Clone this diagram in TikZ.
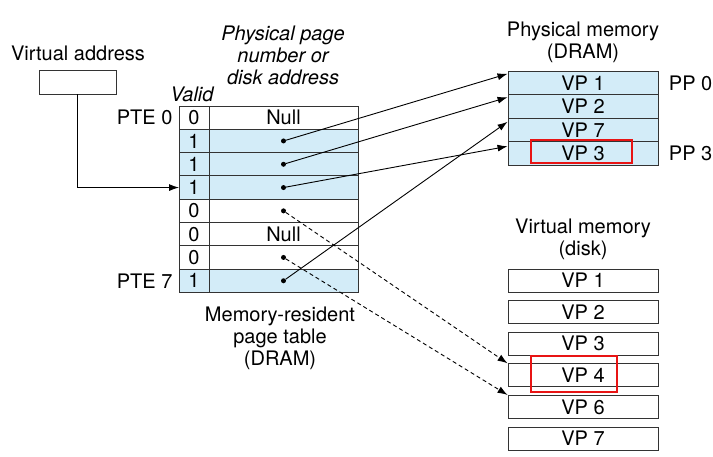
\documentclass[tikz,border=0pt]{standalone}
\usepackage{fontspec}
\setmainfont{TeX Gyre Heros}
\usetikzlibrary{positioning}
\usetikzlibrary{arrows.meta}
\definecolor{pteblue}{RGB}{211,236,248}
\definecolor{boxred}{RGB}{232,20,20}
\tikzset{
% Cells of the page table and of the two memories
table cell/.style={draw=black!80,line width=0.9,outer sep=0,inner sep=0,minimum height=23.3},
mem cell/.style={draw=black!80,line width=0.9,inner sep=0,minimum width=150,minimum height=23.5},
red box/.style={draw=boxred,line width=2,inner sep=0},
solid node/.style={circle,fill=black,inner sep=0,minimum size=5},
italic text/.style={font=\fontsize{20}{22}\selectfont\itshape},
% Connectors: pointers into DRAM and disk addresses
ptr arrow/.style={line width=0.9,-{Latex[length=10,width=7]}},
disk arrow/.style={ptr arrow,dash pattern=on 4 off 3}
}

\begin{document}
\begin{tikzpicture}[x=1pt,y=-1pt,font=\fontsize{20}{22}\selectfont]
	\useasboundingbox (0,0) rectangle (713,456);
	% The page table
	\foreach \i/\bit/\col/\txt in {0/0/white/Null,1/1/pteblue/{},2/1/pteblue/{},3/1/pteblue/{},4/0/white/{},5/0/white/Null,6/0/white/{},7/1/pteblue/{}}{
		\node[table cell,minimum width=30,fill=\col] (v\i) at (194,{117.65+23.3*\i}) {\bit};
		\node[table cell,minimum width=149,fill=\col,right=0pt of v\i] (a\i) {\txt};
	}
	\foreach \i in {1,2,3,4,6,7}
		\node[solid node] (p\i) at (a\i) {};
	\node[left=3pt of v0] (pte0) {PTE 0};
	\node[left=3pt of v7] (pte7) {PTE 7};
	\node[italic text] (valid) at (192,94) {Valid};
	\node[italic text,align=center] (ppn) at (283,55) {Physical page\\number or\\disk address};
	\node[align=center] (mrpt) at (280,338) {Memory-resident\\page table\\(DRAM)};
	% Virtual address
	\node (valabel) at (78,53) {Virtual address};
	\node[draw=black!80,line width=0.9,minimum width=77,minimum height=24,inner sep=0] (va) at (77.5,82) {};
	\draw[ptr arrow] (va.south) |- (v3.west);
	% Physical memory
	\node[align=center] (pmlabel) at (583,42) {Physical memory\\(DRAM)};
	\foreach \i/\vp in {0/1,1/2,2/7,3/3}
		\node[mem cell,fill=pteblue] (pm\i) at (583,{83+23.5*\i}) {VP \vp};
	\node[right=7pt of pm0] (pp0) {PP 0};
	\node[right=7pt of pm3] (pp3) {PP 3};
	\node[red box,minimum width=101,minimum height=23] (hl3) at (581.5,151.5) {};
	% Virtual memory
	\node[align=center] (vmlabel) at (583,239) {Virtual memory\\(disk)};
	\foreach \k/\vp in {0/1,1/2,2/3,3/4,4/6,5/7}
		\node[mem cell,minimum height=23] (vp\vp) at (583,{280.5+31.6*\k}) {VP \vp};
	\node[red box,minimum width=86,minimum height=36] (hl4) at (574,374) {};
	% Pointers
	\draw[ptr arrow] (p1) -- ([yshift=-3]pm0.north west);
	\draw[ptr arrow] (p2) -- ([yshift=-3]pm1.north west);
	\draw[ptr arrow] (p3) -- ([yshift=-5]pm3.north west);
	\draw[ptr arrow] (p7) -- ([yshift=-4]pm2.north west);
	\draw[disk arrow] (p4) -- (vp4.north west);
	\draw[disk arrow] (p6) -- (vp6.north west);
\end{tikzpicture}
\end{document}
